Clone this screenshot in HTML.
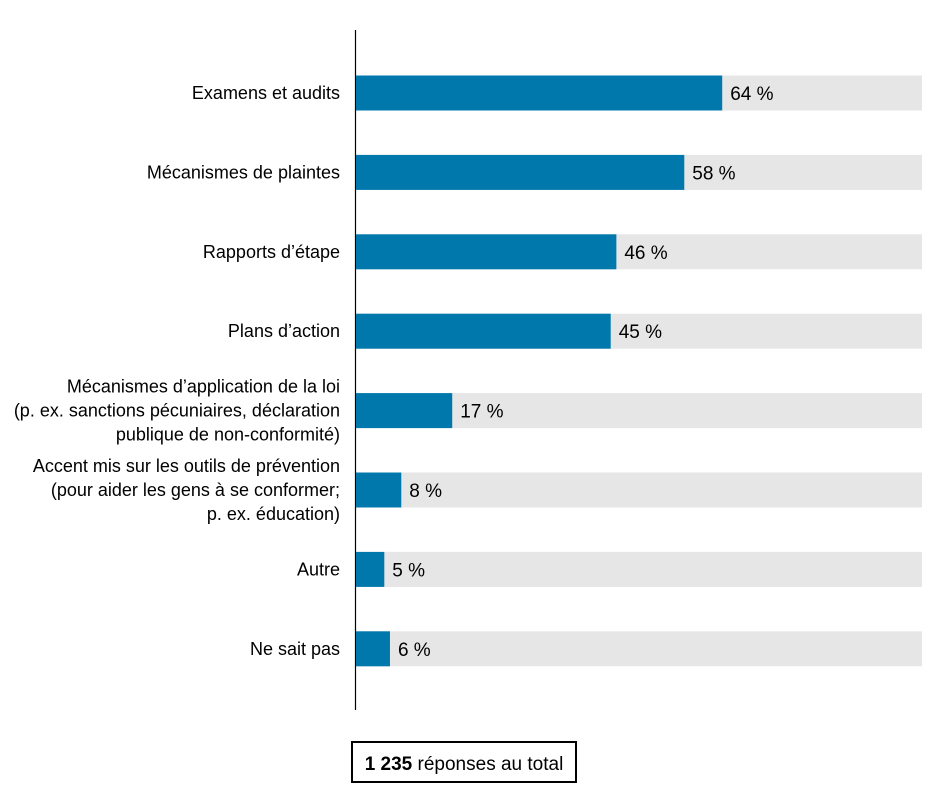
<!DOCTYPE html>
<html><head><meta charset="utf-8">
<style>
body{margin:0;background:#fff;width:938px;height:792px;overflow:hidden;font-family:"Liberation Sans",sans-serif;}
svg text{font-family:"Liberation Sans",sans-serif;}
</style></head>
<body>
<svg id="chart" width="938" height="792" xmlns="http://www.w3.org/2000/svg">
<line x1="355.5" y1="30" x2="355.5" y2="710" stroke="#000" stroke-width="1.2"/>
<g id="bars"></g>
<rect x="352" y="742" width="224" height="40" fill="#fff" stroke="#000" stroke-width="2"/>
<text x="464" y="770" text-anchor="middle" font-size="19" fill="#000"><tspan font-weight="bold">1 235</tspan> réponses au total</text>
</svg>
<script>
const categories=[["Examens et audits"],["Mécanismes de plaintes"],["Rapports d’étape"],["Plans d’action"],["Mécanismes d’application de la loi","(p. ex. sanctions pécuniaires, déclaration","publique de non-conformité)"],["Accent mis sur les outils de prévention","(pour aider les gens à se conformer;","p. ex. éducation)"],["Autre"],["Ne sait pas"]];
const values=[64.7,58,46,45,17,8,5,6];
const valueLabels=["64 %","58 %","46 %","45 %","17 %","8 %","5 %","6 %"];
const NS="http://www.w3.org/2000/svg";
const x0=356,xw=566;
function xs(v){return x0+v/100*xw;}
function yc(i){return 93+i*79.4;}
const g=document.getElementById('bars');
function mk(t,a){const e=document.createElementNS(NS,t);for(const k in a)e.setAttribute(k,a[k]);g.appendChild(e);return e;}
categories.forEach((lines,i)=>{
  const c=yc(i);
  const bg=mk('rect',{x:x0,y:c-17.5,width:xw,height:35,fill:'#e6e6e7'});
  
  
  const b=mk('rect',{x:x0,y:c-17.5,width:xs(values[i])-x0,height:35,fill:'#0078ac'});
  
  
  const v=mk('text',{x:xs(values[i])+8,y:c+7,'font-size':19,fill:'#000'});
  v.textContent=valueLabels[i];
  
  
  const n=lines.length;
  lines.forEach((ln,j)=>{
    const t=mk('text',{x:340,y:c+6+(j-(n-1)/2)*24,'font-size':18,'text-anchor':'end',fill:'#000',textLength:0});
    t.removeAttribute('textLength');
    t.textContent=ln;
    
    
  });
});
</script>
</body></html>
